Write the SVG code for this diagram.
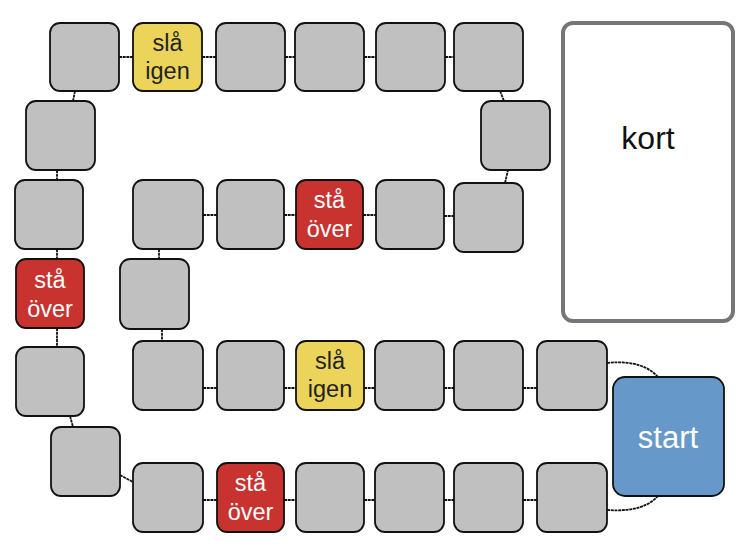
<svg xmlns="http://www.w3.org/2000/svg" width="750" height="550" viewBox="0 0 750 550">
<style>
.sq{fill:#c0c0c0;stroke:#111;stroke-width:1.8}
.y{fill:#ecd45a;stroke:#111;stroke-width:1.8}
.r{fill:#c83330;stroke:#111;stroke-width:1.8}
.b{fill:#6698c9;stroke:#111;stroke-width:1.8}
.k{fill:#fff;stroke:#76757a;stroke-width:4}
.c{fill:none;stroke:#111;stroke-width:1.8;stroke-dasharray:3 0.7}
text{font-family:"Liberation Sans",Arial,sans-serif;text-anchor:middle}
.t{font-size:23.5px}
.dk{fill:#222}
.wh{fill:#fff}
</style>
<rect width="750" height="550" fill="#fff"/>
<g id="connectors">
<path class="c" d="M119,57H133M202,57H216M285,57H295M364,57H376M445,57H454"/>
<path class="c" d="M75,91L73,101M57,170V180M57,249V259M57,328V347M70,416L73,427M120,475L133,482"/>
<path class="c" d="M203,500H217M284,500H296M364,500H375M444,500H454M523,500H537"/>
<path class="c" d="M607,510C635,512 650,505 658,496"/>
<path class="c" d="M607,363C635,360 650,368 658,377"/>
<path class="c" d="M203,388H217M284,388H296M364,388H375M444,388H454M523,388H537"/>
<path class="c" d="M162,329V341M159,249V259"/>
<path class="c" d="M203,215H217M284,215H296M363,215H376M444,216H454"/>
<path class="c" d="M505,183L508,170M500,91L504,101"/>
</g>
<g id="kort"><rect class="k" x="563" y="23" width="170" height="298" rx="10"/><text x="648" y="149" font-size="32" fill="#111">kort</text></g>
<g id="start"><rect class="b" x="613" y="377" width="111" height="119" rx="12"/><text x="668" y="448" font-size="31" class="wh">start</text></g>
<g id="t1"><rect class="sq" x="50" y="23" width="69" height="68" rx="10"/></g>
<g id="t2"><rect class="y" x="133" y="23" width="69" height="68" rx="10"/><text class="t dk" x="167.5" y="51">slå</text><text class="t dk" x="167.5" y="79">igen</text></g>
<g id="t3"><rect class="sq" x="216" y="23" width="69" height="68" rx="10"/></g>
<g id="t4"><rect class="sq" x="295" y="23" width="69" height="68" rx="10"/></g>
<g id="t5"><rect class="sq" x="376" y="23" width="69" height="68" rx="10"/></g>
<g id="t6"><rect class="sq" x="454" y="23" width="69" height="68" rx="10"/></g>
<g id="t7"><rect class="sq" x="481" y="101" width="69" height="69" rx="10"/></g>
<g id="t8"><rect class="sq" x="454" y="183" width="69" height="69" rx="10"/></g>
<g id="t9"><rect class="sq" x="376" y="180" width="68" height="69" rx="10"/></g>
<g id="t10"><rect class="r" x="296" y="180" width="67" height="69" rx="10"/><text class="t wh" x="329.5" y="208">stå</text><text class="t wh" x="329.5" y="237">över</text></g>
<g id="t11"><rect class="sq" x="217" y="180" width="67" height="69" rx="10"/></g>
<g id="t12"><rect class="sq" x="133" y="180" width="70" height="69" rx="10"/></g>
<g id="t13"><rect class="sq" x="120" y="259" width="69" height="70" rx="10"/></g>
<g id="t14"><rect class="sq" x="133" y="341" width="70" height="69" rx="10"/></g>
<g id="t15"><rect class="sq" x="217" y="341" width="67" height="69" rx="10"/></g>
<g id="t16"><rect class="y" x="296" y="341" width="68" height="69" rx="10"/><text class="t dk" x="330" y="369">slå</text><text class="t dk" x="330" y="397">igen</text></g>
<g id="t17"><rect class="sq" x="375" y="341" width="69" height="69" rx="10"/></g>
<g id="t18"><rect class="sq" x="454" y="341" width="69" height="69" rx="10"/></g>
<g id="t19"><rect class="sq" x="537" y="341" width="70" height="69" rx="10"/></g>
<g id="t20"><rect class="sq" x="537" y="463" width="70" height="69" rx="10"/></g>
<g id="t21"><rect class="sq" x="454" y="463" width="69" height="69" rx="10"/></g>
<g id="t22"><rect class="sq" x="375" y="463" width="69" height="69" rx="10"/></g>
<g id="t23"><rect class="sq" x="296" y="463" width="68" height="69" rx="10"/></g>
<g id="t24"><rect class="r" x="217" y="463" width="67" height="69" rx="10"/><text class="t wh" x="250.5" y="491">stå</text><text class="t wh" x="250.5" y="520">över</text></g>
<g id="t25"><rect class="sq" x="133" y="463" width="70" height="69" rx="10"/></g>
<g id="t26"><rect class="sq" x="51" y="427" width="69" height="69" rx="10"/></g>
<g id="t27"><rect class="sq" x="16" y="347" width="68" height="69" rx="10"/></g>
<g id="t28"><rect class="r" x="16" y="259" width="68" height="69" rx="10"/><text class="t wh" x="50" y="288">stå</text><text class="t wh" x="50" y="317">över</text></g>
<g id="t29"><rect class="sq" x="15" y="180" width="68" height="69" rx="10"/></g>
<g id="t30"><rect class="sq" x="26" y="101" width="69" height="69" rx="10"/></g>
</svg>
